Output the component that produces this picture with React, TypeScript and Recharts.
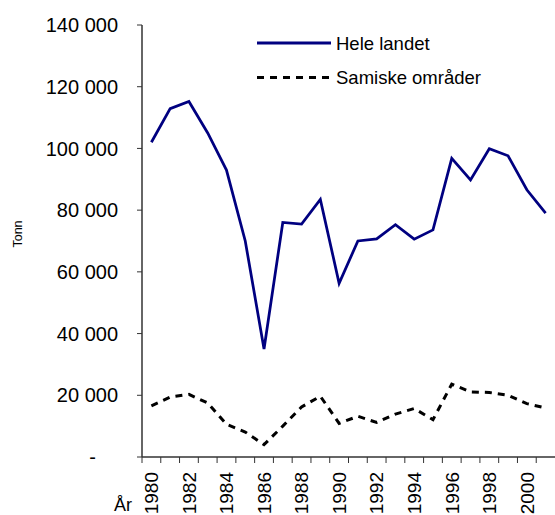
import React from 'react';
import { LineChart, Line, XAxis, YAxis, Legend } from 'recharts';

const years = [
  '1980', '1981', '1982', '1983', '1984', '1985', '1986', '1987', '1988', '1989', '1990',
  '1991', '1992', '1993', '1994', '1995', '1996', '1997', '1998', '1999', '2000', '2001',
];

// Tonn
const heleLandet = [
  102000, 112900, 115200, 105000, 93000, 70000, 35000, 76000, 75500, 83500, 56300,
  70000, 70700, 75300, 70600, 73600, 96800, 89800, 99900, 97600, 86600, 79000,
];
const samiske = [
  16600, 19400, 20300, 17500, 10600, 8100, 4000, 10000, 16200, 19700, 10900,
  13200, 11200, 13900, 15700, 12100, 23600, 21100, 20900, 20000, 17300, 15900,
];

const yTicks = [0, 20000, 40000, 60000, 80000, 100000, 120000, 140000];

const data = years.map((year, i) => ({ year, hele: heleLandet[i], sami: samiske[i] }));

const FONT = '"Liberation Sans", Arial, sans-serif';
const AXIS = '#333';

const fmt = (v: number) => String(v).replace(/\B(?=(\d{3})+(?!\d))/g, ' ');

const YTick = (props: any) => {
  const { x, y, payload } = props;
  const zero = payload.value === 0;
  return (
    <text x={zero ? x - 22 : x} y={y} dy="0.36em" textAnchor="end" fontSize={20} fontFamily={FONT} fill="#000">
      {zero ? '-' : fmt(payload.value)}
    </text>
  );
};

const XTick = (props: any) => {
  const { x, y, payload } = props;
  const left = x - (payload.offset || 0);
  const showLabel = payload.index % 2 === 0;
  return (
    <g>
      <line x1={left} x2={left} y1={y - 6} y2={y} stroke={AXIS} strokeWidth={1} />
      {showLabel && (
        <text
          x={x}
          y={y + 9}
          dy="0.36em"
          textAnchor="end"
          fontSize={19}
          fontFamily={FONT}
          fill="#000"
          transform={`rotate(-90, ${x}, ${y + 9})`}
        >
          {payload.value}
        </text>
      )}
    </g>
  );
};

const LegendBox = (props: any) => {
  const items = props.payload || [];
  return (
    <svg width={260} height={70}>
      {items.map((it: any, i: number) => (
        <g key={it.value}>
          <line
            x1={3}
            x2={77}
            y1={14 + i * 34.5}
            y2={14 + i * 34.5}
            stroke={it.color}
            strokeWidth={3}
            strokeDasharray={it.payload?.strokeDasharray}
          />
          <text x={82} y={14 + i * 34.5} dy="0.36em" fontSize={18.5} fontFamily={FONT} fill="#000">
            {it.value}
          </text>
        </g>
      ))}
    </svg>
  );
};

export default function App() {
  return (
    <div style={{ position: 'absolute', left: 0, top: 0, background: '#fff' }}>
      <LineChart width={555} height={515} data={data} margin={{ top: 25, right: 0, left: 0, bottom: 0 }}>
        <XAxis
          dataKey="year"
          scale="band"
          height={58}
          interval={0}
          tickLine={false}
          tickSize={6}
          tickMargin={0}
          tick={<XTick />}
          axisLine={{ stroke: AXIS, strokeWidth: 1.5 }}
          label={{
            content: (p: any) => (
              <text x={p.viewBox.x - 10} y={p.viewBox.y + 54} textAnchor="end" fontSize={18} fontFamily={FONT} fill="#000">
                År
              </text>
            ),
          }}
        />
        <YAxis
          width={142}
          domain={[0, 140000]}
          ticks={yTicks}
          interval={0}
          tickSize={5}
          tickMargin={19}
          tick={<YTick />}
          tickLine={{ stroke: AXIS }}
          axisLine={{ stroke: AXIS, strokeWidth: 1.5 }}
          label={{
            content: (p: any) => {
              const cx = p.viewBox.x + 17;
              const cy = p.viewBox.y + p.viewBox.height / 2 - 7;
              return (
                <text x={cx} y={cy} dy="0.36em" textAnchor="middle" fontSize={12.5} fontFamily={FONT} fill="#000" transform={`rotate(-90, ${cx}, ${cy})`}>
                  Tonn
                </text>
              );
            },
          }}
        />
        <Legend
          layout="vertical"
          align="center"
          verticalAlign="middle"
          content={<LegendBox />}
          wrapperStyle={{ left: 254, top: 29, width: 260, height: 70 }}
        />
        <Line
          name="Hele landet"
          dataKey="hele"
          stroke="#000080"
          strokeWidth={2.75}
          dot={false}
          isAnimationActive={false}
        />
        <Line
          name="Samiske områder"
          dataKey="sami"
          stroke="#000"
          strokeWidth={3}
          strokeDasharray="7 6"
          dot={false}
          isAnimationActive={false}
        />
      </LineChart>
    </div>
  );
}
